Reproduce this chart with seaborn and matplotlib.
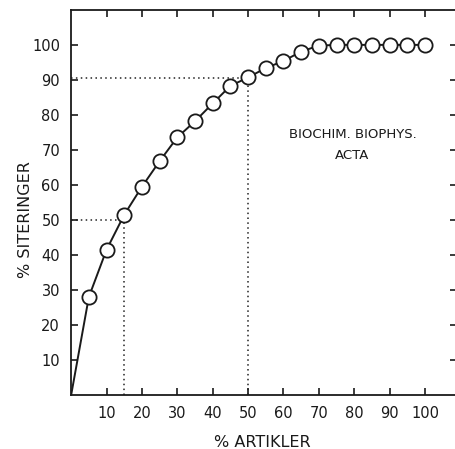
import matplotlib
matplotlib.use("Agg")
import matplotlib.pyplot as plt
import numpy as np
import pandas as pd
import seaborn as sns

# Data
artikler = [0, 5, 10, 15, 20, 25, 30, 35, 40, 45, 50, 55, 60, 65, 70, 75, 80, 85, 90, 95, 100]
siteringer = [0, 28, 41.5, 51.5, 59.5, 66.8, 73.6, 78.2, 83.3, 88.3, 90.7, 93.4, 95.4, 98.1, 99.8,
              100, 100, 100, 100, 100, 100]
ticks = [10, 20, 30, 40, 50, 60, 70, 80, 90, 100]
guide_x = [15, 50]
guide_y = [50, 90.6]

df = pd.DataFrame({"artikler": artikler, "siteringer": siteringer})

sns.set_style("ticks")
plt.rcParams["font.family"] = ["DejaVu Sans"]

fig = plt.figure(figsize=(4.56, 4.49), dpi=100)
ax = fig.add_axes([0.156, 0.120, 0.846, 0.858])

# dotted guide lines
for gx, gy in zip(guide_x, guide_y):
    ax.plot([0, gx], [gy, gy], color="#222222", linestyle=(0, (1, 2.2)), linewidth=1.1, zorder=1)
    ax.plot([gx, gx], [0, gy], color="#222222", linestyle=(0, (1, 2.2)), linewidth=1.1, zorder=1)

sns.lineplot(data=df, x="artikler", y="siteringer", color="#1a1a1a", linewidth=1.4, ax=ax, zorder=2)
sns.scatterplot(data=df.iloc[1:], x="artikler", y="siteringer", s=105, facecolor="white",
                edgecolor="#1a1a1a", linewidth=1.3, ax=ax, zorder=3)

ax.set_xlim(0, 109)
ax.set_ylim(0, 110)
ax.set_xticks(ticks)
ax.set_yticks(ticks)
ax.tick_params(direction="in", length=5, width=1.2, top=True, right=True, labelsize=10.5,
               color="#1a1a1a", labelcolor="#1a1a1a", pad=8)
for side in ["left", "bottom", "top"]:
    ax.spines[side].set_linewidth(1.3)
    ax.spines[side].set_color("#1a1a1a")
ax.spines["right"].set_visible(False)

ax.set_xlabel("% ARTIKLER", fontsize=11.5, color="#1a1a1a")
ax.set_ylabel("% SITERINGER", fontsize=11.5, color="#1a1a1a")
ax.xaxis.set_label_coords(0.495, -0.104)
ax.yaxis.set_label_coords(-0.10, 0.455)

ax.text(79.5, 71.4, "BIOCHIM. BIOPHYS.\nACTA", ha="center", va="center", fontsize=9.5,
        linespacing=1.8, color="#1a1a1a")

fig.savefig("out.png", dpi=100)
